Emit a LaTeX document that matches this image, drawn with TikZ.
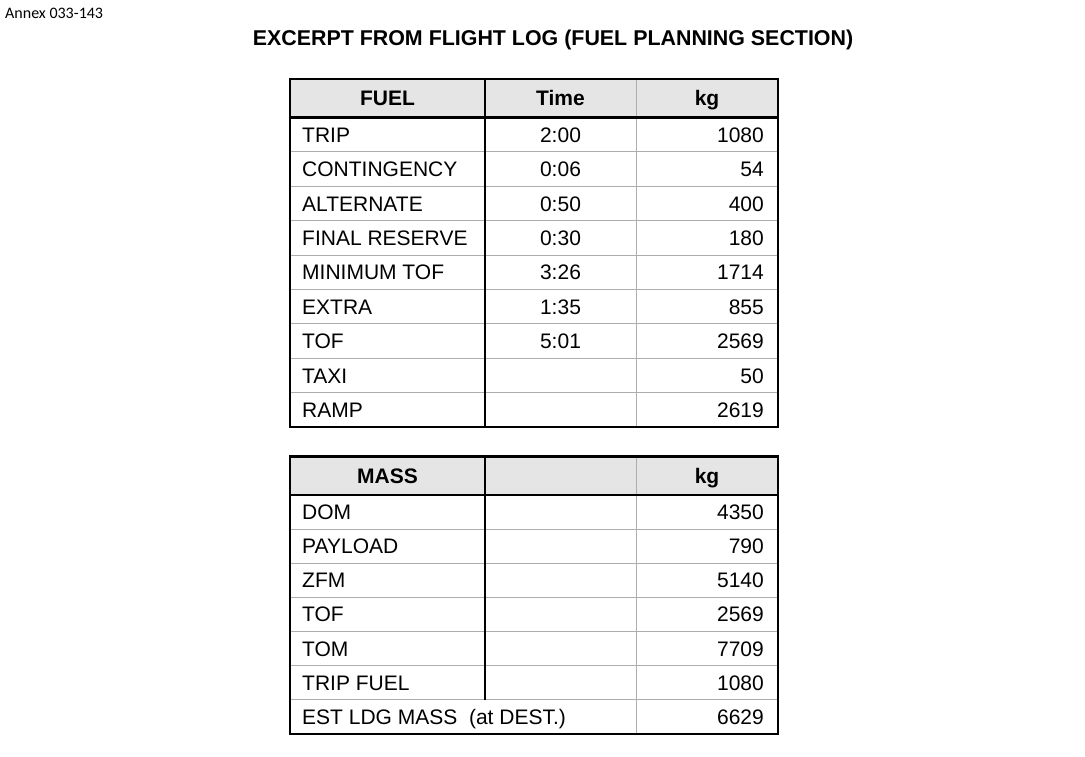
\documentclass[tikz,border=0pt]{standalone}
\usepackage{fontspec}
\setmainfont{Liberation Sans}
\newfontfamily\annexfont{Carlito}
\usetikzlibrary{calc}
\definecolor{HeadClr}{rgb}{0.9,0.9,0.9}
\definecolor{RuleClr}{rgb}{0.68,0.68,0.68}

\begin{document}
\begin{tikzpicture}[x=1pt,y=-1pt,
  thickrule/.style={line width=2.2pt,black},
  thinrule/.style={line width=1pt,color=RuleClr},
  celltext/.style={font=\fontsize{21}{21}\selectfont,inner sep=0pt},
  headtext/.style={font=\fontsize{21}{21}\selectfont\bfseries,inner sep=0pt,anchor=base}]
\useasboundingbox (0,0) rectangle (1085,756);

\node[font=\annexfont\fontsize{16}{16}\selectfont,inner sep=0pt,anchor=base west] (annex) at (5,18.5) {Annex 033-143};
\node[font=\fontsize{21.4}{21.4}\selectfont\bfseries,inner sep=0pt,anchor=base] (title) at (553,45) {EXCERPT FROM FLIGHT LOG (FUEL PLANNING SECTION)};

% fuel table
\fill[HeadClr] (290,79) rectangle (778,117.5);
\foreach \i in {1,...,8}
  \draw[thinrule] (290,{117.5+\i*34.4}) -- (778,{117.5+\i*34.4});
\draw[thinrule] (636,79) -- (636,427);
\draw[thickrule] (290,117.5) -- (778,117.5);
\draw[thickrule] (485,79) -- (485,427);
\draw[thickrule] (290,79) rectangle (778,427);

\node[headtext] (fuelhead) at (387.5,105.5) {FUEL};
\node[headtext] (timehead) at (560.5,105.5) {Time};
\node[headtext] (kghead) at (707,105.5) {kg};

\foreach \name/\t/\kg [count=\i] in {TRIP/2:00/1080,CONTINGENCY/0:06/54,
    ALTERNATE/0:50/400,FINAL RESERVE/0:30/180,MINIMUM TOF/3:26/1714,
    EXTRA/1:35/855,TOF/5:01/2569,TAXI//50,RAMP//2619}{
  \node[celltext,anchor=base west] (fuel\i) at (302,{117.5+(\i-0.5)*34.4+7.5}) {\name};
  \node[celltext,anchor=base] (time\i) at (560.5,{117.5+(\i-0.5)*34.4+7.5}) {\t};
  \node[celltext,anchor=base east] (kg\i) at (764,{117.5+(\i-0.5)*34.4+7.5}) {\kg};
}

% mass table
\fill[HeadClr] (290,456.5) rectangle (778,495);
\foreach \i in {1,...,6}
  \draw[thinrule] (290,{495+\i*34.14}) -- (778,{495+\i*34.14});
\draw[thinrule] (636,456.5) -- (636,734);
\draw[thickrule] (290,495) -- (778,495);
\draw[thickrule] (485,456.5) -- (485,{495+6*34.14});
\draw[thickrule] (290,456.5) rectangle (778,734);

\node[headtext] (masshead) at (387.5,483.5) {MASS};
\node[headtext] (kgmasshead) at (707,483.5) {kg};

\foreach \name/\kg [count=\i] in {DOM/4350,PAYLOAD/790,ZFM/5140,TOF/2569,
    TOM/7709,TRIP FUEL/1080,EST LDG MASS\ \ (at DEST.)/6629}{
  \node[celltext,anchor=base west] (mass\i) at (302,{495+(\i-0.5)*34.14+7.5}) {\name};
  \node[celltext,anchor=base east] (kgmass\i) at (764,{495+(\i-0.5)*34.14+7.5}) {\kg};
}

\end{tikzpicture}
\end{document}
